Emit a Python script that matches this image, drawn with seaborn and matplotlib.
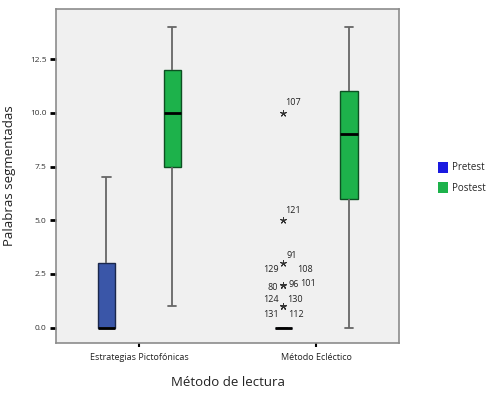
import pandas as pd
import matplotlib.pyplot as plt
from matplotlib.patches import Patch
import seaborn as sns

# Palabras segmentadas per group (raw scores)
metodos = ['Estrategias Pictofónicas', 'Método Ecléctico']
pruebas = ['Pretest', 'Postest']

pict_pre = [0, 0, 0, 0, 0, 0, 0, 1, 3, 3, 3, 5, 7]
pict_post = [1, 4, 7, 8, 9, 10, 10, 12, 12, 13, 14]
ecle_pre = [0] * 40 + [1, 1, 1, 1, 2, 2, 2, 2, 2, 3, 5, 10]
ecle_post = [0, 4, 6, 8, 9, 10, 11, 13, 14]

# case numbers of the extreme values (Método Ecléctico, Pretest)
outlier_ids = ['107', '121', '91', '129', '108', '80', '96', '101', '124', '130', '131', '112']
outlier_vals = [10, 5, 3, 2, 2, 2, 2, 2, 1, 1, 1, 1]

box_colors = {'Pretest': '#3a56a8', 'Postest': '#1db24b'}
legend_colors = {'Pretest': '#1a1ae0', 'Postest': '#1db24b'}

rows = []
for metodo, prueba, vals in [(metodos[0], 'Pretest', pict_pre), (metodos[0], 'Postest', pict_post),
                             (metodos[1], 'Pretest', ecle_pre), (metodos[1], 'Postest', ecle_post)]:
    for v in vals:
        rows.append({'Método de lectura': metodo, 'Prueba': prueba, 'Palabras segmentadas': v})
df = pd.DataFrame(rows)

sns.set_style('white', {'axes.facecolor': '#f0f0f0', 'axes.edgecolor': '#8c8c8c'})
plt.rcParams['font.family'] = ['Open Sans', 'DejaVu Sans']

fig = plt.figure(figsize=(4.88, 3.97), dpi=100)
ax = fig.add_axes([0.115, 0.136, 0.703, 0.841])

sns.boxplot(data=df, x='Método de lectura', y='Palabras segmentadas', hue='Prueba',
            order=metodos, hue_order=pruebas, palette=box_colors, saturation=1,
            width=0.745, gap=0.74, linecolor='#666666', linewidth=1.3,
            medianprops=dict(color='black', linewidth=2),
            flierprops=dict(marker=(5, 2, 0), markersize=5, markerfacecolor='#333333',
                            markeredgecolor='#333333', markeredgewidth=0.7),
            legend=False, ax=ax)

for p in ax.patches:
    r, g, b, a = p.get_facecolor()
    p.set_edgecolor((r * 0.45, g * 0.45, b * 0.45))
    p.set_linewidth(1)

# label the extreme cases
flier_x, nmax = None, 0
for ln in ax.lines:
    if ln.get_linestyle() in ('None', '') and len(ln.get_xdata()) > nmax:
        flier_x, nmax = ln.get_xdata()[0], len(ln.get_xdata())
label_offsets = [(10, 10), (10, 10), (9, 8), (-12, 15), (22, 15), (-10, -3), (11, 0),
                 (25, 1), (-12, 7), (12, 7), (-12, -8), (13, -8)]
for cid, val, (dx, dy) in zip(outlier_ids, outlier_vals, label_offsets):
    ax.annotate(cid, (flier_x, val), xytext=(dx, dy), textcoords='offset pixels',
                ha='center', va='center', fontsize=6.5, color='#222222')

ax.set_xlim(-0.47, 1.47)
ax.set_ylim(-0.71, 14.82)
ax.set_yticks([0, 2.5, 5, 7.5, 10, 12.5])
ax.set_yticklabels(['0.0', '2.5', '5.0', '7.5', '10.0', '12.5'])
ax.tick_params(axis='y', left=True, length=4, width=2, color='black', labelsize=6, pad=3,
               labelcolor='#333333')
ax.tick_params(axis='x', bottom=True, length=3, width=1.5, color='black', labelsize=6.5, pad=4,
               labelcolor='#222222')
ax.set_xlabel('Método de lectura', fontsize=9.5, labelpad=10, color='#222222')
ax.set_ylabel('Palabras segmentadas', fontsize=9.5, labelpad=10, color='#222222')
for s in ax.spines.values():
    s.set_color('#8c8c8c')
    s.set_linewidth(1.2)

handles = [Patch(facecolor=legend_colors[p], edgecolor='none', label=p) for p in pruebas]
fig.legend(handles=handles, loc='upper left', bbox_to_anchor=(0.88, 0.615), frameon=False,
           fontsize=7, handlelength=1.0, handleheight=1.4, handletextpad=0.4, labelspacing=0.9)

fig.savefig('out.png', dpi=100)
